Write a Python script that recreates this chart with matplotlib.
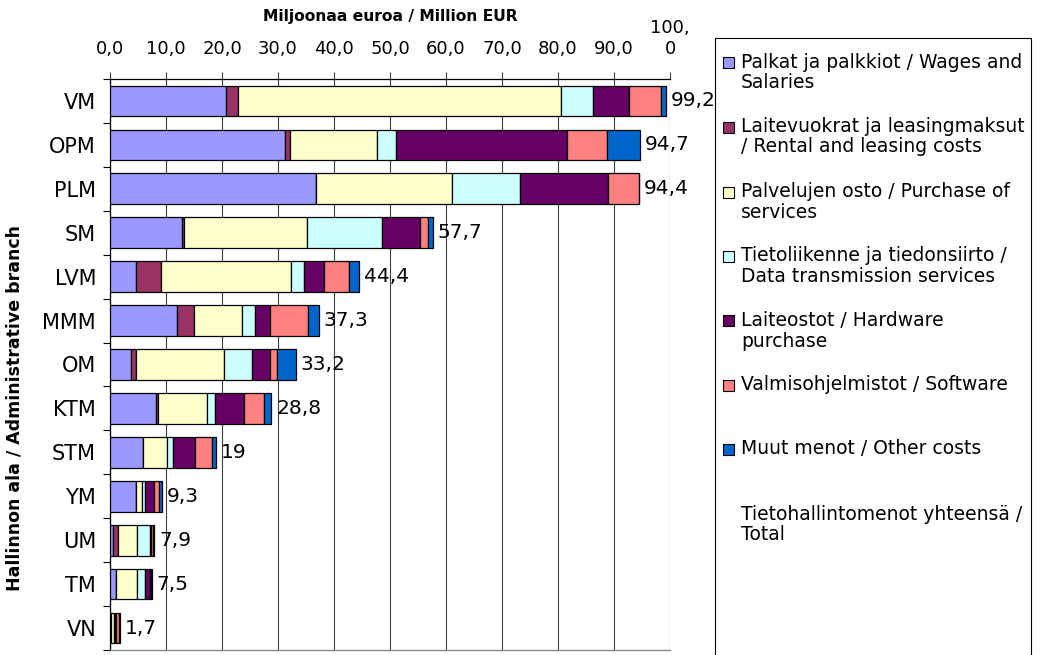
import numpy as np
import matplotlib
matplotlib.use("Agg")
import matplotlib.pyplot as plt
from matplotlib.patches import Rectangle

plt.rcParams['font.family'] = ['DejaVu Sans']

categories = ["VM", "OPM", "PLM", "SM", "LVM", "MMM", "OM", "KTM", "STM", "YM", "UM", "TM", "VN"]

wages     = [20.8, 31.2, 36.7, 12.8, 4.7, 11.9, 3.8, 8.3, 5.9, 4.7, 0.6, 1.0, 0.1]
rental    = [2.1, 1.0, 0.0, 0.4, 4.4, 3.1, 0.8, 0.3, 0.0, 0.0, 0.9, 0.1, 0.0]
purchase  = [57.6, 15.4, 24.3, 21.9, 23.3, 8.6, 15.8, 8.7, 4.2, 1.0, 3.3, 3.7, 0.7]
datatrans = [5.7, 3.5, 12.2, 13.4, 2.2, 2.3, 5.0, 1.5, 1.1, 0.6, 2.3, 1.4, 0.1]
hardware  = [6.4, 30.5, 15.7, 6.9, 3.6, 2.6, 3.1, 5.2, 4.0, 1.5, 0.2, 1.0, 0.2]
software  = [5.8, 7.1, 5.5, 1.4, 4.4, 6.9, 1.4, 3.5, 3.1, 1.0, 0.4, 0.2, 0.5]
other     = [0.8, 6.0, 0.0, 0.9, 1.8, 1.9, 3.3, 1.3, 0.7, 0.5, 0.2, 0.1, 0.1]
totals    = [99.2, 94.7, 94.4, 57.7, 44.4, 37.3, 33.2, 28.8, 19.0, 9.3, 7.9, 7.5, 1.7]

series_labels = [
    "Palkat ja palkkiot / Wages and\nSalaries",
    "Laitevuokrat ja leasingmaksut\n/ Rental and leasing costs",
    "Palvelujen osto / Purchase of\nservices",
    "Tietoliikenne ja tiedonsiirto /\nData transmission services",
    "Laiteostot / Hardware\npurchase",
    "Valmisohjelmistot / Software",
    "Muut menot / Other costs",
]
total_label = "Tietohallintomenot yhteensä /\nTotal"
colors = ["#9999FF", "#993366", "#FFFFCC", "#CCFFFF", "#660066", "#FF8080", "#0066CC"]

xticks = [0, 10, 20, 30, 40, 50, 60, 70, 80, 90, 100]
xtick_labels = ["0,0", "10,0", "20,0", "30,0", "40,0", "50,0", "60,0", "70,0", "80,0", "90,0", "100,\n0"]
xlabel = "Miljoonaa euroa / Million EUR"
ylabel = "Hallinnon ala / Administrative branch"

W, H = 1043, 655
fig = plt.figure(figsize=(W / 100, H / 100), dpi=100)
ax = fig.add_axes([110 / W, 1 - 650 / H, 560 / W, 571 / H])

series = [wages, rental, purchase, datatrans, hardware, software, other]
n = len(categories)
y = np.arange(n)
left = np.zeros(n)
for vals, col in zip(series, colors):
    v = np.array(vals)
    ax.barh(y, v, left=left, height=0.7, color=col, edgecolor="black", linewidth=0.9, zorder=3)
    left += v

for i, t in enumerate(totals):
    s = ("%g" % t).replace(".", ",")
    ax.annotate(s, xy=(left[i], i), xytext=(3.5, 0), textcoords="offset points",
                va="center", ha="left", fontsize=14.5, zorder=4, annotation_clip=False)

ax.set_xlim(0, 100)
ax.set_ylim(n - 0.5, -0.5)
ax.xaxis.tick_top()
ax.set_xticks(xticks)
ax.set_xticklabels(xtick_labels, fontsize=13, linespacing=1.25)
ax.tick_params(axis="x", which="major", length=5, width=0.8, pad=10, color="#404040")
ax.set_yticks(y)
ax.set_yticklabels(categories, fontsize=15)
ax.tick_params(axis="y", which="major", length=0, pad=10)
ax.set_yticks(np.arange(n + 1) - 0.5, minor=True)
ax.tick_params(axis="y", which="minor", length=5, width=0.8)

ax.xaxis.grid(True, color="#404040", linewidth=0.8, zorder=0)
ax.set_axisbelow(True)
for side in ["top", "left"]:
    ax.spines[side].set_color("black")
    ax.spines[side].set_linewidth(0.9)
ax.spines["right"].set_visible(False)
ax.spines["bottom"].set_color("#808080")
ax.spines["bottom"].set_linewidth(0.9)

fig.text(390 / W, 1 - 17 / H, xlabel, ha="center", va="center", fontsize=11.2, fontweight="bold")
fig.text(15 / W, 1 - 408 / H, ylabel, ha="center", va="center", rotation=90, fontsize=12.5, fontweight="bold")

# legend
fig.add_artist(Rectangle((715 / W, -0.02), (1031 - 715) / W, (655 - 38) / H + 0.02,
                         transform=fig.transFigure, fill=False, edgecolor="black", linewidth=0.8))
entry_y = [62, 127, 192, 256, 321, 385, 449, 514]
labels_all = series_labels + [total_label]
for k, (yc, lab) in enumerate(zip(entry_y, labels_all)):
    if k < len(colors):
        fig.add_artist(Rectangle((723 / W, 1 - (yc + 5.5) / H), 11 / W, 11 / H,
                                 transform=fig.transFigure, facecolor=colors[k],
                                 edgecolor="black", linewidth=0.8))
    for j, line in enumerate(lab.split("\n")):
        fig.text(741 / W, 1 - (yc + 20 * j) / H, line, ha="left", va="center", fontsize=13.5)

fig.savefig("out.png", dpi=100)
